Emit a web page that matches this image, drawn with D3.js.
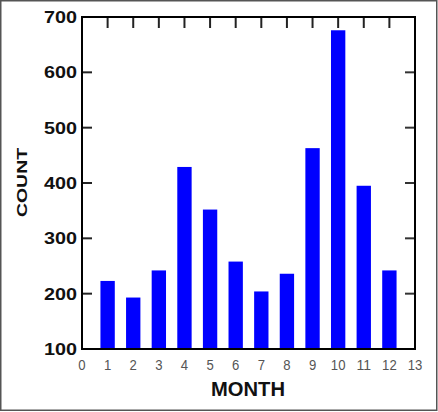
<!DOCTYPE html>
<html>
<head>
<meta charset="utf-8">
<script src="https://cdn.jsdelivr.net/npm/d3@7"></script>
<style>
  html, body { margin: 0; padding: 0; background: #fff; }
  svg { display: block; }
</style>
</head>
<body>
<script>
// data
const months = [1, 2, 3, 4, 5, 6, 7, 8, 9, 10, 11, 12];
const counts = [223, 193, 242, 429, 352, 258, 204, 236, 463, 676, 395, 242];
const xTickValues = d3.range(0, 14);
const yTickValues = [100, 200, 300, 400, 500, 600, 700];

const width = 438;
const height = 412;
const margin = { top: 17, right: 23, bottom: 63, left: 82 };

const svg = d3.select('body').append('svg')
  .attr('width', width)
  .attr('height', height)
  .style('font-family', 'Arial, "Liberation Sans", sans-serif');

// outer frame
svg.append('rect')
  .attr('x', 0.75).attr('y', 0.75)
  .attr('width', width - 2).attr('height', height - 2.5)
  .attr('fill', '#fff')
  .attr('stroke', '#555')
  .attr('stroke-width', 1.5);

const x = d3.scaleLinear().domain([0, 13]).range([margin.left, width - margin.right]);
const y = d3.scaleLinear().domain([100, 700]).range([height - margin.bottom, margin.top]);

const barWidth = x(0.56) - x(0);

// bars
svg.append('g')
  .selectAll('rect')
  .data(months)
  .join('rect')
  .attr('x', (d) => x(d) - barWidth / 2)
  .attr('y', (d, i) => y(counts[i]))
  .attr('width', barWidth)
  .attr('height', (d, i) => y(100) - y(counts[i]))
  .attr('fill', '#0000ff');

// inward ticks: left, right, top
const tickLen = 10;
const inner = yTickValues.slice(1, -1);

svg.append('g')
  .selectAll('line')
  .data(inner)
  .join('line')
  .attr('x1', x(0)).attr('x2', x(0) + tickLen)
  .attr('y1', (d) => y(d)).attr('y2', (d) => y(d))
  .attr('stroke', '#222').attr('stroke-width', 2);

svg.append('g')
  .selectAll('line')
  .data(inner)
  .join('line')
  .attr('x1', x(13)).attr('x2', x(13) - tickLen)
  .attr('y1', (d) => y(d)).attr('y2', (d) => y(d))
  .attr('stroke', '#333').attr('stroke-width', 2);

svg.append('g')
  .selectAll('line')
  .data(months)
  .join('line')
  .attr('x1', (d) => x(d)).attr('x2', (d) => x(d))
  .attr('y1', y(700)).attr('y2', y(700) + tickLen + 1)
  .attr('stroke', '#222').attr('stroke-width', 2);

// plot frame
svg.append('rect')
  .attr('x', x(0)).attr('y', y(700))
  .attr('width', x(13) - x(0))
  .attr('height', y(100) - y(700))
  .attr('fill', 'none')
  .attr('stroke', '#000')
  .attr('stroke-width', 2);

// y tick labels
svg.append('g')
  .selectAll('text')
  .data(yTickValues)
  .join('text')
  .attr('x', x(0) - 5)
  .attr('y', (d) => y(d))
  .attr('dy', '0.36em')
  .attr('text-anchor', 'end')
  .attr('font-size', 17)
  .attr('font-weight', 'bold')
  .attr('fill', '#111')
  .attr('textLength', (d) => String(d).length * 11)
  .attr('lengthAdjust', 'spacingAndGlyphs')
  .text((d) => d);

// x tick labels
svg.append('g')
  .selectAll('text')
  .data(xTickValues)
  .join('text')
  .attr('x', (d) => x(d))
  .attr('y', y(100) + 15)
  .attr('dy', '0.36em')
  .attr('text-anchor', 'middle')
  .attr('font-size', 15.5)
  .attr('fill', '#555')
  .attr('textLength', (d) => String(d).length * 7.3)
  .attr('lengthAdjust', 'spacingAndGlyphs')
  .text((d) => d);

// axis titles
svg.append('text')
  .attr('x', 248)
  .attr('y', 389)
  .attr('dy', '0.36em')
  .attr('text-anchor', 'middle')
  .attr('font-size', 20)
  .attr('font-weight', 'bold')
  .attr('fill', '#111')
  .attr('textLength', 74)
  .attr('lengthAdjust', 'spacingAndGlyphs')
  .text('MONTH');

svg.append('text')
  .attr('transform', 'translate(21.5,182.5) rotate(-90)')
  .attr('dy', '0.36em')
  .attr('text-anchor', 'middle')
  .attr('font-size', 15.5)
  .attr('font-weight', 'bold')
  .attr('fill', '#111')
  .attr('textLength', 69)
  .attr('lengthAdjust', 'spacingAndGlyphs')
  .text('COUNT');
</script>
</body>
</html>
